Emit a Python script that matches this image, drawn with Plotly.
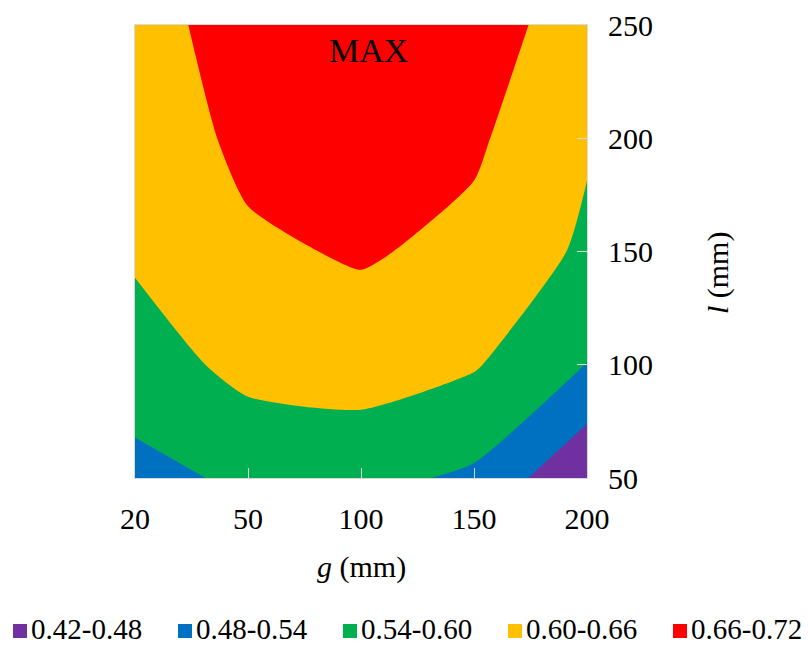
import plotly.graph_objects as go

# Grid axes: gap g (mm) and length l (mm)
g_mm = ["20", "50", "100", "150", "200"]
l_mm = [50, 100, 150, 200, 250]

# Efficiency on the grid, one list per l value (columns follow g_mm)
eff_l50 = [0.525, 0.549, 0.556, 0.530, 0.426]
eff_l100 = [0.567, 0.620, 0.629, 0.605, 0.539]
eff_l150 = [0.610, 0.650, 0.666, 0.645, 0.590]
eff_l200 = [0.620, 0.675, 0.695, 0.669, 0.606]
eff_l250 = [0.635, 0.688, 0.710, 0.688, 0.630]

# Contour bands
band_labels = ["0.42-0.48", "0.48-0.54", "0.54-0.60", "0.60-0.66", "0.66-0.72"]
band_colors = ["#7030A0", "#0070C0", "#00B050", "#FFC000", "#FF0000"]
level_start, level_end, level_step = 0.48, 0.66, 0.06

SERIF = "Liberation Serif, Times New Roman, serif"
GRID_LINE = "#D9D9D9"

# Figure geometry (pixels)
W, H = 808, 646
M_L, M_R, M_T, M_B = 135, 221, 25, 168
PLOT_W, PLOT_H = W - M_L - M_R, H - M_T - M_B


def px_to_paper(px, py):
    return (px - M_L) / PLOT_W, (H - M_B - py) / PLOT_H


z = [eff_l50, eff_l100, eff_l150, eff_l200, eff_l250]
n = len(band_colors)
colorscale = [[i / (n - 1), c] for i, c in enumerate(band_colors)]

fig = go.Figure()
fig.add_trace(go.Contour(
    x=g_mm, y=l_mm, z=z,
    autocontour=False,
    contours=dict(coloring="fill", start=level_start, end=level_end,
                  size=level_step, showlines=False),
    colorscale=colorscale,
    showscale=False,
    line=dict(width=0, smoothing=0.6),
    hoverinfo="skip",
    showlegend=False,
))

# Band key drawn beneath the axis title: a coloured square and its range
shapes, annotations = [], []
key_x0, key_pitch, key_cy, key_sq = 13, 165, 629, 14
for i, (label, color) in enumerate(zip(band_labels, band_colors)):
    sx = key_x0 + i * key_pitch
    x0, y0 = px_to_paper(sx, key_cy + 2 + key_sq / 2)
    x1, y1 = px_to_paper(sx + key_sq, key_cy + 2 - key_sq / 2)
    shapes.append(dict(type="rect", xref="paper", yref="paper",
                       x0=x0, y0=y0, x1=x1, y1=y1,
                       fillcolor=color, line=dict(width=0)))
    tx, ty = px_to_paper(sx + key_sq + 3, key_cy)
    annotations.append(dict(text=label, xref="paper", yref="paper", x=tx, y=ty,
                            xanchor="left", yanchor="middle", showarrow=False,
                            borderpad=0,
                            font=dict(family=SERIF, size=29, color="#000000")))

annotations += [
    dict(text="MAX", xref="paper", yref="paper", x=0.516, y=0.943,
         xanchor="center", yanchor="middle", showarrow=False,
         font=dict(family=SERIF, size=34, color="#000000")),
    dict(text="<i>g</i> (mm)", xref="paper", yref="paper", x=0.5, y=-0.196,
         xanchor="center", yanchor="middle", showarrow=False,
         font=dict(family=SERIF, size=30, color="#000000")),
    dict(text="<i>l</i> (mm)", xref="paper", yref="paper", x=1.29, y=0.4525,
         xanchor="center", yanchor="middle", showarrow=False, textangle=-90,
         font=dict(family=SERIF, size=30, color="#000000")),
]

fig.update_layout(
    width=W, height=H,
    margin=dict(l=M_L, r=M_R, t=M_T, b=M_B, autoexpand=False),
    paper_bgcolor="white", plot_bgcolor="white",
    font=dict(family=SERIF, size=30, color="#000000"),
    showlegend=False,
    xaxis=dict(
        type="category", range=[0, 4],
        ticks="inside", ticklen=10, tickcolor=GRID_LINE, tickwidth=1,
        showline=True, linecolor=GRID_LINE, linewidth=1, mirror=True,
        showgrid=False, zeroline=False,
        tickfont=dict(family=SERIF, size=30),
        ticklabelstandoff=14,
    ),
    yaxis=dict(
        side="right", range=[50, 250], dtick=50,
        ticks="inside", ticklen=10, tickcolor=GRID_LINE, tickwidth=1,
        showline=True, linecolor=GRID_LINE, linewidth=1, mirror=True,
        showgrid=False, zeroline=False,
        tickfont=dict(family=SERIF, size=30),
        ticklabelstandoff=14,
    ),
    shapes=shapes,
    annotations=annotations,
)

fig.write_html("out.html")
